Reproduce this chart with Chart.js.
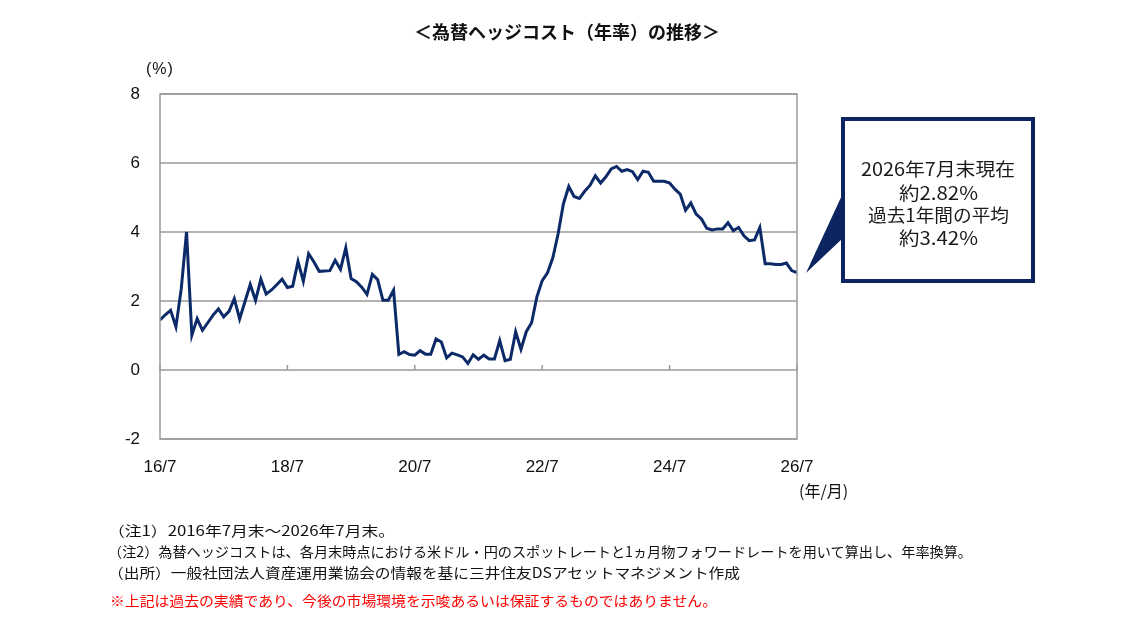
<!DOCTYPE html>
<html><head><meta charset="utf-8">
<script src="https://cdn.jsdelivr.net/npm/chart.js@4"></script>
<style>
html,body{margin:0;padding:0;background:#fff;}
#wrap{position:relative;width:1134px;height:625px;overflow:hidden;font-family:"Noto Sans CJK JP","Noto Sans",sans-serif;color:#111;}
#cv{position:absolute;left:0;top:0;}
.t{position:absolute;white-space:nowrap;transform-origin:left center;}
#title{left:0;width:1134px;top:18px;text-align:center;font-size:18px;font-weight:bold;}
#box{position:absolute;left:841px;top:117px;width:186px;height:158px;border:4px solid #0c2560;background:#fff;}
.bl{position:absolute;white-space:nowrap;transform-origin:left center;font-size:18px;line-height:24px;color:#1a1a1a;}
.note{font-size:14px;left:108px;}
</style></head>
<body><div id="wrap">
<canvas id="cv" width="1134" height="625"></canvas>
<div id="title" class="t">＜為替ヘッジコスト（年率）の推移＞</div>
<div class="t" style="left:146px;top:60px;font-size:16px;font-family:'Liberation Sans',sans-serif;letter-spacing:1px;">(%)</div>
<div class="t" style="left:799px;top:478px;font-size:16px;">(年/月)</div>
<svg style="position:absolute;left:0;top:0" width="1134" height="625"><polygon points="843,193 843,238 806,273" fill="#0c2560"/></svg>
<div id="box"></div>
<div class="bl" data-w="154" data-cx="938" style="top:156px">2026年7月末現在</div>
<div class="bl" data-w="79" data-cx="938" style="top:180px">約2.82%</div>
<div class="bl" data-w="141" data-cx="938" style="top:202px">過去1年間の平均</div>
<div class="bl" data-w="79" data-cx="938" style="top:225px">約3.42%</div>
<div class="t note" data-w="287" style="top:520px">（注1）2016年7月末～2026年7月末。</div>
<div class="t note" data-w="864" style="top:541px">（注2）為替ヘッジコストは、各月末時点における米ドル・円のスポットレートと1ヵ月物フォワードレートを用いて算出し、年率換算。</div>
<div class="t note" data-w="632" style="top:562px">（出所）一般社団法人資産運用業協会の情報を基に三井住友DSアセットマネジメント作成</div>
<div class="t note" data-w="607" style="top:590px;left:110px;color:#ff0000;">※上記は過去の実績であり、今後の市場環境を示唆あるいは保証するものではありません。</div>
</div>
<script>
// Monthly hedge cost (% p.a.), end of month, 2016/7 ... 2026/7 (121 months)
const monthIndex = Array.from({length:121},(_,i)=>i);
const hedgeCost = [
1.45,1.60,1.73,1.25,2.35,4.00,1.01,1.49,1.15,1.37,1.59,1.77,
1.54,1.70,2.07,1.48,1.98,2.48,2.02,2.63,2.20,2.32,2.47,2.63,
2.39,2.43,3.15,2.57,3.37,3.13,2.86,2.87,2.88,3.18,2.92,3.54,
2.65,2.56,2.40,2.19,2.77,2.62,2.02,2.02,2.31,0.45,0.53,0.45,
0.43,0.56,0.46,0.46,0.90,0.81,0.35,0.49,0.44,0.38,0.19,0.44,
0.31,0.43,0.32,0.32,0.85,0.27,0.31,1.11,0.60,1.11,1.37,2.12,
2.59,2.82,3.25,3.95,4.82,5.32,5.03,4.97,5.18,5.35,5.63,5.42,
5.60,5.83,5.90,5.76,5.81,5.75,5.52,5.76,5.73,5.47,5.47,5.47,
5.42,5.24,5.10,4.63,4.84,4.52,4.38,4.11,4.06,4.09,4.09,4.27,
4.04,4.13,3.89,3.75,3.77,4.13,3.08,3.08,3.06,3.06,3.10,2.88,
2.82];
const xTickPositions = [0,24,48,72,96,120];
const xTickLabels = ["16/7","18/7","20/7","22/7","24/7","26/7"];
const yTickValues = [8,6,4,2,0,-2];

const GRID = '#9a9a9a';
const framePlugin = {
  id:'frame',
  afterDatasetsDraw(chart){
    const {ctx, chartArea:a, scales:{x,y}} = chart;
    ctx.save();
    ctx.strokeStyle = GRID; ctx.lineWidth = 1.5;
    ctx.strokeRect(a.left, a.top, a.right-a.left, a.bottom-a.top);
    const y0 = y.getPixelForValue(0);
    ctx.beginPath();
    xTickPositions.forEach(v=>{ const px = x.getPixelForValue(v); ctx.moveTo(px, y0); ctx.lineTo(px, y0-5); });
    ctx.stroke();
    ctx.restore();
  }
};
const gridPlugin = {
  id:'gridUnder',
  beforeDatasetsDraw(chart){
    const {ctx, chartArea:a, scales:{y}} = chart;
    ctx.save(); ctx.strokeStyle = GRID; ctx.lineWidth = 1.5;
    ctx.beginPath();
    yTickValues.forEach(v=>{ const py = y.getPixelForValue(v); ctx.moveTo(a.left, py); ctx.lineTo(a.right, py); });
    ctx.stroke(); ctx.restore();
  }
};

new Chart(document.getElementById('cv'), {
  type:'line',
  data:{ datasets:[{ data: monthIndex.map((m,i)=>({x:m, y:hedgeCost[i]})), borderColor:'#0c2a68', borderWidth:3, pointRadius:0, tension:0, fill:false }]},
  options:{
    responsive:false, animation:false, devicePixelRatio:1,
    layout:{padding:{left:0,right:337,top:94,bottom:136}},
    plugins:{legend:{display:false}, tooltip:{enabled:false}},
    scales:{
      x:{ type:'linear', min:0, max:120,
          afterBuildTicks(s){ s.ticks = xTickPositions.map(v=>({value:v})); },
          afterFit(s){ s.height = 50; },
          grid:{display:false}, border:{display:false},
          ticks:{ autoSkip:false, maxRotation:0, padding:10, color:'#111', font:{family:'Liberation Sans', size:17},
                  callback:(v,i)=>xTickLabels[i] } },
      y:{ min:-2, max:8,
          afterBuildTicks(s){ s.ticks = yTickValues.map(v=>({value:v})); },
          afterFit(s){ s.width = 160; },
          grid:{display:false}, border:{display:false},
          ticks:{ padding:12, color:'#111', font:{family:'Liberation Sans', size:17}, callback:v=>String(v) } }
    }
  },
  plugins:[gridPlugin, framePlugin]
});

document.querySelectorAll('[data-w]').forEach(el=>{
  const w = el.getBoundingClientRect().width;
  const target = +el.dataset.w;
  if (el.dataset.cx) el.style.left = (+el.dataset.cx - target/2) + 'px';
  if (w>0) el.style.transform = 'scaleX(' + (target/w) + ')';
});
</script>
</body></html>
